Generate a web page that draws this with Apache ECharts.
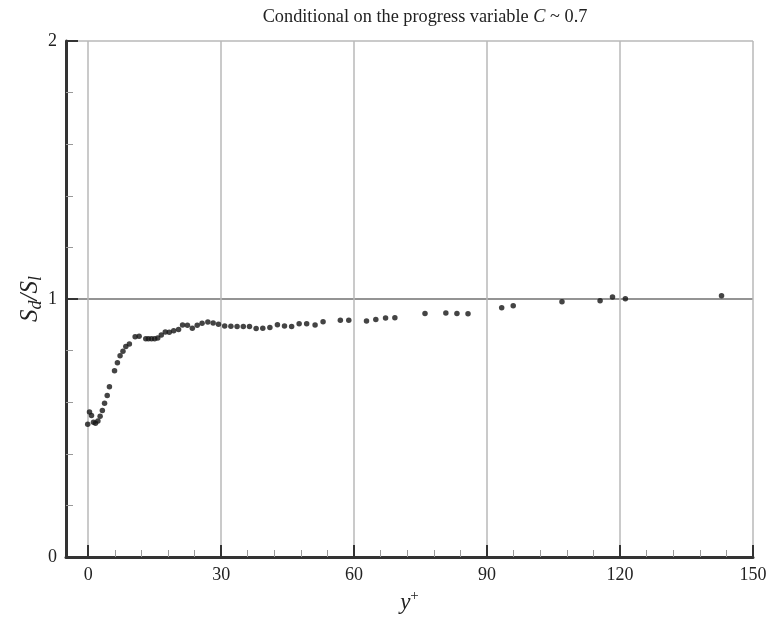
<!DOCTYPE html>
<html>
<head>
<meta charset="utf-8">
<script src="https://cdn.jsdelivr.net/npm/echarts@6/dist/echarts.min.js"></script>
<style>html,body{margin:0;padding:0;background:#fff}#c{width:773px;height:625px}</style>
</head>
<body>
<div id="c"></div>
<script>
var yPlus = [-0.1,0.3,0.75,1.2,1.65,2.2,2.7,3.2,3.7,4.3,4.8,5.95,6.6,7.2,7.85,8.5,9.3,10.6,11.5,13.0,13.6,14.3,15.0,15.7,16.5,17.4,18.3,19.3,20.4,21.3,22.4,23.5,24.6,25.7,27.0,28.2,29.4,30.8,32.2,33.6,35.0,36.4,37.9,39.4,41.0,42.7,44.3,45.9,47.6,49.3,51.2,53.0,56.9,58.8,62.8,64.9,67.1,69.2,76.0,80.7,83.2,85.7,93.3,95.9,106.9,115.5,118.3,121.2,142.9];
var sdSl = [0.515,0.562,0.548,0.522,0.518,0.527,0.546,0.568,0.596,0.626,0.66,0.722,0.753,0.78,0.797,0.816,0.826,0.854,0.856,0.846,0.846,0.846,0.846,0.849,0.86,0.872,0.871,0.877,0.882,0.899,0.898,0.887,0.898,0.906,0.911,0.907,0.902,0.895,0.894,0.893,0.893,0.893,0.886,0.887,0.89,0.9,0.895,0.893,0.904,0.904,0.899,0.912,0.918,0.918,0.915,0.921,0.926,0.927,0.944,0.946,0.944,0.943,0.966,0.974,0.989,0.993,1.008,1.001,1.013];
var xMajorTicks = [0,30,60,90,120,150];
var xMinorTicks = [6,12,18,24,36,42,48,54,66,72,78,84,96,102,108,114,126,132,138,144];
var yTicks = [0,1,2];
var titleText = 'Conditional on the progress variable ';

var points = yPlus.map(function(x,i){return [x, sdSl[i]];});
var serif = '"Liberation Serif","DejaVu Serif",serif';
var chart = echarts.init(document.getElementById('c'));
chart.setOption({
  animation: false,
  backgroundColor: '#fff',
  title: {
    text: '{n|' + titleText + '}{i|C}{n| ~ 0.7}',
    left: 420, top: 3, textAlign: 'center',
    textStyle: {
      fontWeight: 'normal',
      rich: {
        n: {fontFamily: serif, fontSize: 18.3, fontWeight: 'normal', color: '#222'},
        i: {fontFamily: serif, fontSize: 18.3, fontWeight: 'normal', fontStyle: 'italic', color: '#222'}
      }
    }
  },
  grid: {left: 66, right: 20, top: 41, bottom: 68},
  xAxis: [{
    type: 'value', min: -5, max: 150,
    name: '{i|y}{s|+}', nameLocation: 'middle', nameGap: 32, nameMoveOverlap: false,
    nameTextStyle: {
      rich: {
        i: {fontFamily: serif, fontSize: 23, fontStyle: 'italic', color: '#222'},
        s: {fontFamily: serif, fontSize: 15, color: '#222', padding: [0,0,12,0]}
      }
    },
    axisLine: {show: true, onZero: false, lineStyle: {color: '#333', width: 3}},
    axisTick: {show: true, inside: true, length: 12, customValues: xMajorTicks, lineStyle: {color: '#333', width: 2}},
    axisLabel: {customValues: xMajorTicks, margin: 9, fontFamily: serif, fontSize: 18, color: '#222'},
    splitLine: {show: true, lineStyle: {color: '#b8b8b8', width: 1.5}}
  }, {
    type: 'value', min: -5, max: 150, position: 'bottom',
    axisLine: {show: false},
    axisLabel: {show: false},
    splitLine: {show: false},
    axisTick: {show: true, inside: true, length: 7, customValues: xMinorTicks, lineStyle: {color: '#999', width: 1}}
  }],
  yAxis: {
    type: 'value', min: 0, max: 2, interval: 1,
    name: '{i|S}{s|d}{i|/S}{s|l}', nameLocation: 'middle', nameGap: 21, nameRotate: 90, nameMoveOverlap: false,
    nameTextStyle: {
      rich: {
        i: {fontFamily: serif, fontSize: 25, fontStyle: 'italic', color: '#222'},
        s: {fontFamily: serif, fontSize: 18, fontStyle: 'italic', color: '#222', padding: [12,0,0,0]}
      }
    },
    axisLine: {show: true, onZero: false, lineStyle: {color: '#333', width: 3}},
    axisTick: {show: true, inside: true, length: 12, lineStyle: {color: '#333', width: 2}},
    minorTick: {show: true, splitNumber: 5, length: 7, lineStyle: {color: '#999', width: 1}},
    axisLabel: {margin: 9, fontFamily: serif, fontSize: 18, color: '#222'},
    splitLine: {show: true, lineStyle: {color: ['rgba(0,0,0,0)', '#707070', '#b8b8b8'], width: 1.5}}
  },
  series: [{
    type: 'scatter',
    data: points,
    symbolSize: 5.5,
    itemStyle: {color: '#151515'},
    z: 5
  }]
});
</script>
</body>
</html>
